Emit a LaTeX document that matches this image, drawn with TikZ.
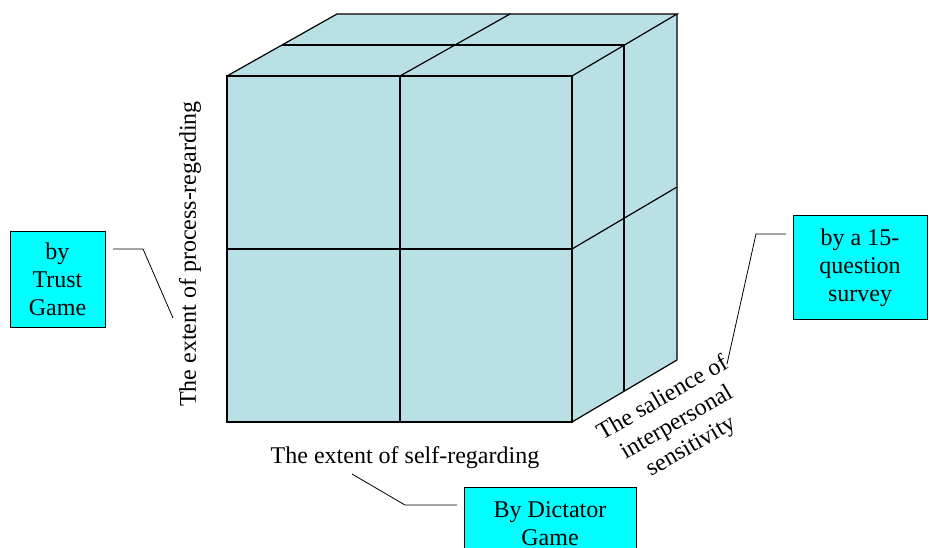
\documentclass[tikz,border=0pt]{standalone}
\usepackage{fontspec}
\setmainfont{Liberation Serif}
\usetikzlibrary{positioning,calc}
\definecolor{cubefill}{RGB}{185,224,228}
\definecolor{boxfill}{RGB}{0,255,255}

\begin{document}
\begin{tikzpicture}[x=1pt,y=-1pt,
    every node/.style={font=\fontsize{24}{28}\selectfont, inner sep=0pt},
    edgeline/.style={draw=black, line width=1.2pt},
    leader/.style={draw=black, line width=0.8pt},
    methodbox/.style={draw=black, fill=boxfill, line width=1pt, align=center}]
    \useasboundingbox (0,0) rectangle (929,548);

    % cube faces
    \fill[cubefill] (227,76) -- (337,14) -- (677,14) -- (677,360) -- (572,422) -- (227,422) -- cycle;
    \draw[edgeline] (227,76) rectangle (572,422);
    \draw[edgeline] (400,76) -- (400,422);
    \draw[edgeline] (227,249) -- (572,249);
    \draw[edgeline] (227,76) -- (337,14) -- (677,14) -- (572,76);
    \draw[edgeline] (282,45) -- (624,45) -- (624,391);
    \draw[edgeline] (400,76) -- (510,14);
    \draw[edgeline] (677,14) -- (677,360) -- (572,422);
    \draw[edgeline] (572,249) -- (677,187);

    % axis labels
    \node (procaxis) [rotate=90] at (190,254) {The extent of process-regarding};
    \node (selfaxis) at (405,458) {The extent of self-regarding};
    \node (salaxis) [rotate=30, align=center] at (677,423) {The salience of\\interpersonal\\sensitivity};

    % measurement boxes
    \node (trust) [methodbox, minimum width=95, minimum height=95] at (57.5,279.5) {by\\Trust\\Game};
    \node (survey) [methodbox, minimum width=134, minimum height=103] at (860,267.5) {by a 15-\\question\\survey};
    \node (dictator) [methodbox, minimum width=172, minimum height=72, anchor=north] at (550,487) {By Dictator\\Game};

    % leaders
    \coordinate (trustA) at (113,249);
    \coordinate (trustB) at (143,249);
    \coordinate (trustC) at (173,318);
    \coordinate (surveyA) at (786,234);
    \coordinate (surveyB) at (756,234);
    \coordinate (surveyC) at (727,364);
    \coordinate (dictA) at (352,474);
    \coordinate (dictB) at (405,505);
    \coordinate (dictC) at (457,505);
    \draw[leader] (trustA) -- (trustB) -- (trustC);
    \draw[leader] (surveyA) -- (surveyB) -- (surveyC);
    \draw[leader] (dictA) -- (dictB) -- (dictC);
\end{tikzpicture}
\end{document}
